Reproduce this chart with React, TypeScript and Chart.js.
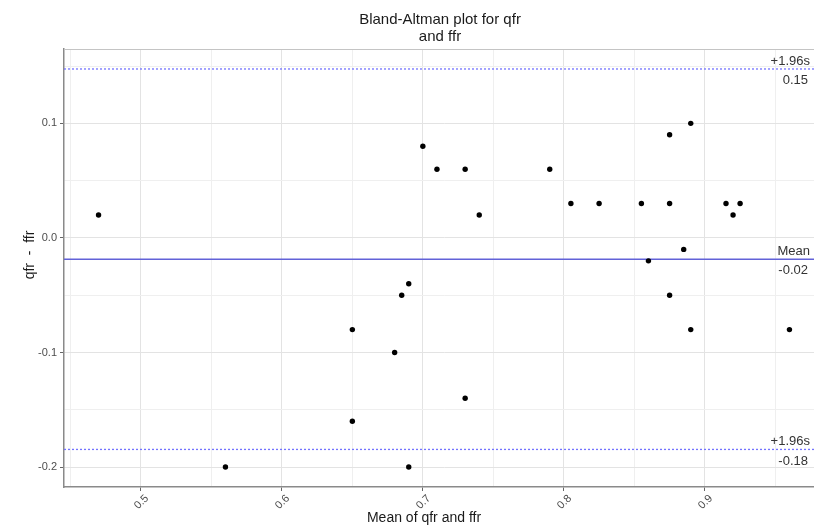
import { useEffect, useRef } from "react";
import { Chart, registerables } from "chart.js";

Chart.register(...registerables);

// Mean of the two measurements (x) and their difference qfr - ffr (y)
const meanValues = [
  0.47, 0.56, 0.65, 0.65, 0.68, 0.685, 0.69, 0.69, 0.7, 0.71, 0.73, 0.73, 0.74, 0.79,
  0.805, 0.825, 0.855, 0.86, 0.875, 0.875, 0.875, 0.885, 0.89, 0.89, 0.915, 0.92, 0.925, 0.96,
];
const diffValues = [
  0.02, -0.2, -0.16, -0.08, -0.1, -0.05, -0.04, -0.2, 0.08, 0.06, 0.06, -0.14, 0.02, 0.06,
  0.03, 0.03, 0.03, -0.02, 0.09, 0.03, -0.05, -0.01, 0.1, -0.08, 0.03, 0.02, 0.03, -0.08,
];

// Gridline positions and which of them carry a label
const xTickValues = [0.45, 0.5, 0.55, 0.6, 0.65, 0.7, 0.75, 0.8, 0.85, 0.9, 0.95];
const xLabelledTicks = [0.5, 0.6, 0.7, 0.8, 0.9];
const yTickValues = [-0.2, -0.15, -0.1, -0.05, 0, 0.05, 0.1, 0.15];
const yLabelledTicks = [-0.2, -0.1, 0, 0.1];

const xRange = [0.4455, 0.9845];
const yRange = [-0.2174, 0.1649];

const titleLines = ["Bland-Altman plot for qfr", "and ffr"];
const xTitle = "Mean of qfr and ffr";
const yTitle = "qfr  -  ffr";

// Bias and limits of agreement
const n = diffValues.length;
const meanDiff = diffValues.reduce((a, b) => a + b, 0) / n;
const sdDiff = Math.sqrt(diffValues.reduce((a, b) => a + (b - meanDiff) ** 2, 0) / (n - 1));
const upperLimit = meanDiff + 1.96 * sdDiff;
const lowerLimit = meanDiff - 1.96 * sdDiff;

const refLines = [
  { value: upperLimit, caption: "+1.96s" },
  { value: meanDiff, caption: "Mean" },
  { value: lowerLimit, caption: "+1.96s" },
];

const FONT = "'Liberation Sans', Arial, Helvetica, sans-serif";

const near = (a: number, list: number[]) => list.some((v) => Math.abs(v - a) < 1e-9);

const decorations = {
  id: "decorations",
  afterDatasetsDraw(chart: any) {
    const { ctx, chartArea, scales } = chart;
    const y = scales.y;
    ctx.save();
    ctx.font = `13px ${FONT}`;
    ctx.fillStyle = "#333333";
    ctx.textAlign = "right";
    const rx = chartArea.right - 16;
    refLines.forEach((l) => {
      const py = y.getPixelForValue(l.value);
      ctx.textBaseline = "alphabetic";
      ctx.fillText(l.caption, rx + 2, py - 4);
      ctx.textBaseline = "top";
      ctx.fillText(l.value.toFixed(2), rx, py + 5);
    });
    ctx.restore();
  },
  afterDraw(chart: any) {
    const { ctx, chartArea } = chart;
    ctx.save();
    // top edge of the panel
    ctx.strokeStyle = "#c4c4c4";
    ctx.lineWidth = 1;
    ctx.beginPath();
    ctx.moveTo(chartArea.left, chartArea.top + 0.5);
    ctx.lineTo(chartArea.right, chartArea.top + 0.5);
    ctx.stroke();

    ctx.fillStyle = "#1a1a1a";
    ctx.textAlign = "center";
    ctx.textBaseline = "alphabetic";
    ctx.font = `15px ${FONT}`;
    ctx.fillText(titleLines[0], 440, 24);
    ctx.fillText(titleLines[1], 440, 41);

    ctx.font = `14px ${FONT}`;
    ctx.fillText(xTitle, 424, 522);

    ctx.translate(34, 255);
    ctx.rotate(-Math.PI / 2);
    ctx.fillText(yTitle, 0, 0);
    ctx.restore();
  },
};

export default function App() {
  const canvasRef = useRef<HTMLCanvasElement>(null);

  useEffect(() => {
    document.body.style.margin = "0";
    const canvas = canvasRef.current;
    if (!canvas) return;

    const pointData = meanValues.map((x, i) => ({ x, y: diffValues[i] }));
    const hLine = (v: number) => [
      { x: xRange[0], y: v },
      { x: xRange[1], y: v },
    ];

    const limitStyle = {
      showLine: true,
      borderColor: "#7373ff",
      borderWidth: 1.3,
      borderDash: [2, 2],
      pointRadius: 0,
      order: 1,
    };

    const chart = new Chart(canvas, {
      type: "scatter",
      data: {
        datasets: [
          {
            data: pointData,
            backgroundColor: "#000000",
            borderWidth: 0,
            pointRadius: 2.7,
            order: 0,
          },
          {
            data: hLine(meanDiff),
            showLine: true,
            borderColor: "#6262d8",
            borderWidth: 1.5,
            pointRadius: 0,
            order: 1,
          },
          { data: hLine(upperLimit), ...limitStyle },
          { data: hLine(lowerLimit), ...limitStyle },
        ],
      },
      options: {
        animation: false,
        responsive: false,
        devicePixelRatio: 1,
        layout: { padding: { top: 49, left: 0, right: 6, bottom: 0 } },
        plugins: {
          legend: { display: false },
          tooltip: { enabled: false },
          title: { display: false },
        },
        scales: {
          x: {
            type: "linear",
            min: xRange[0],
            max: xRange[1],
            afterBuildTicks: (s: any) => {
              s.ticks = xTickValues.map((value) => ({ value }));
            },
            afterFit: (s: any) => {
              s.height = 43;
            },
            ticks: {
              autoSkip: false,
              minRotation: 45,
              maxRotation: 45,
              padding: 1,
              labelOffset: 6,
              color: "#4d4d4d",
              font: { family: FONT, size: 11 },
              callback: (v: any) => (near(Number(v), xLabelledTicks) ? Number(v).toFixed(1) : ""),
            },
            grid: {
              color: (c: any) => (c.tick && near(c.tick.value, xLabelledTicks) ? "#e3e3e3" : "#efefef"),
              lineWidth: 1,
              tickLength: 4,
              tickColor: (c: any) => (c.tick && near(c.tick.value, xLabelledTicks) ? "#666666" : "rgba(0,0,0,0)"),
            },
            border: { display: true, color: "#8a8a8a", width: 1.5 },
          },
          y: {
            type: "linear",
            min: yRange[0],
            max: yRange[1],
            afterBuildTicks: (s: any) => {
              s.ticks = yTickValues.map((value) => ({ value }));
            },
            afterFit: (s: any) => {
              s.width = 64;
            },
            ticks: {
              autoSkip: false,
              padding: 3,
              color: "#4d4d4d",
              font: { family: FONT, size: 11 },
              callback: (v: any) => (near(Number(v), yLabelledTicks) ? Number(v).toFixed(1) : ""),
            },
            grid: {
              color: (c: any) => (c.tick && near(c.tick.value, yLabelledTicks) ? "#e3e3e3" : "#efefef"),
              lineWidth: 1,
              tickLength: 4,
              tickColor: (c: any) => (c.tick && near(c.tick.value, yLabelledTicks) ? "#666666" : "rgba(0,0,0,0)"),
            },
            border: { display: true, color: "#8a8a8a", width: 1.5 },
          },
        },
      },
      plugins: [decorations],
    });

    return () => chart.destroy();
  }, []);

  return (
    <div style={{ width: 814, height: 530, overflow: "hidden", position: "relative", background: "#ffffff" }}>
      <canvas ref={canvasRef} width={830} height={530} style={{ width: 830, height: 530, display: "block" }} />
    </div>
  );
}
